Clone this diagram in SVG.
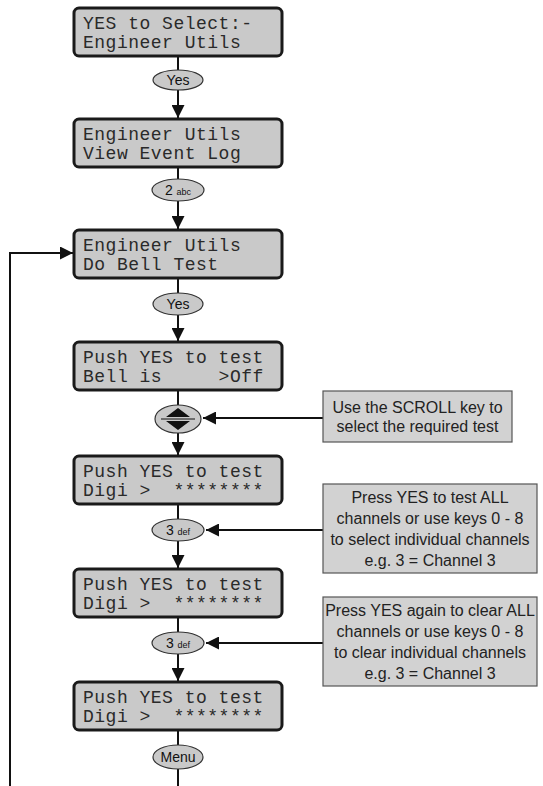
<svg xmlns="http://www.w3.org/2000/svg" width="543" height="786" viewBox="0 0 543 786">
<style>
.lcd{fill:#c9c9c9;stroke:#1a1a1a;stroke-width:3}
.lt{font-family:"Liberation Mono","DejaVu Sans Mono",monospace;font-size:18px;letter-spacing:0.5px;fill:#2a2a2a;white-space:pre}
.key{fill:#c9c9c9;stroke:#333;stroke-width:1.2}
.kt{font-family:"Liberation Sans",Arial,sans-serif;font-size:14px;fill:#111;text-anchor:middle}
.ks{font-size:9px}
.note{fill:#d2d2d2;stroke:#555;stroke-width:1.2}
.nt{font-family:"Liberation Sans",Arial,sans-serif;font-size:16px;fill:#222;text-anchor:middle}
.con{fill:none;stroke:#111;stroke-width:2}
</style>
<defs>
<marker id="ah" viewBox="0 0 10 10" refX="10" refY="5" markerWidth="13" markerHeight="13" markerUnits="userSpaceOnUse" orient="auto">
<path d="M0,0 L10,5 L0,10 z" fill="#111"/>
</marker>
</defs>
<g id="connectors">
<path class="con" d="M178,56 V118" marker-end="url(#ah)"/>
<path class="con" d="M178,167 V229" marker-end="url(#ah)"/>
<path class="con" d="M178,278 V341" marker-end="url(#ah)"/>
<path class="con" d="M178,390 V455" marker-end="url(#ah)"/>
<path class="con" d="M178,504 V568" marker-end="url(#ah)"/>
<path class="con" d="M178,617 V681" marker-end="url(#ah)"/>
<path class="con" d="M178,730 V786"/>
<path class="con" d="M10,786 V253 H73" marker-end="url(#ah)"/>
<path class="con" d="M323,418 H203" marker-end="url(#ah)"/>
<path class="con" d="M323,530 H206" marker-end="url(#ah)"/>
<path class="con" d="M323,643 H206" marker-end="url(#ah)"/>
</g>
<g id="lcd1"><rect class="lcd" x="74" y="8" width="208" height="48" rx="5"/>
<text class="lt" x="83" y="29">YES to Select:-<tspan x="83" dy="19">Engineer Utils</tspan></text></g>
<g id="key1"><ellipse class="key" cx="178" cy="80" rx="25" ry="10"/><text class="kt" x="178" y="85">Yes</text></g>
<g id="lcd2"><rect class="lcd" x="74" y="119" width="208" height="48" rx="5"/>
<text class="lt" x="83" y="140">Engineer Utils<tspan x="83" dy="19">View Event Log</tspan></text></g>
<g id="key2"><ellipse class="key" cx="178" cy="190" rx="26" ry="11"/><text class="kt" x="178" y="195">2 <tspan class="ks">abc</tspan></text></g>
<g id="lcd3"><rect class="lcd" x="74" y="230" width="208" height="48" rx="5"/>
<text class="lt" x="83" y="251">Engineer Utils<tspan x="83" dy="19">Do Bell Test</tspan></text></g>
<g id="key3"><ellipse class="key" cx="178" cy="304" rx="25" ry="11"/><text class="kt" x="178" y="309">Yes</text></g>
<g id="lcd4"><rect class="lcd" x="74" y="342" width="208" height="48" rx="5"/>
<text class="lt" x="83" y="363">Push YES to test<tspan x="83" dy="19">Bell is     &gt;Off</tspan></text></g>
<g id="scroll"><ellipse class="key" cx="178" cy="419" rx="23" ry="14"/>
<path d="M166,417 L178,408 L190,417 z M166,421 L178,430 L190,421 z" fill="#111"/>
<path d="M161,419 H195" stroke="#111" stroke-width="1"/></g>
<g id="lcd5"><rect class="lcd" x="74" y="456" width="208" height="48" rx="5"/>
<text class="lt" x="83" y="477">Push YES to test<tspan x="83" dy="19">Digi &gt;  ********</tspan></text></g>
<g id="key4"><ellipse class="key" cx="178" cy="530" rx="26" ry="11"/><text class="kt" x="178" y="535">3 <tspan class="ks">def</tspan></text></g>
<g id="lcd6"><rect class="lcd" x="74" y="569" width="208" height="48" rx="5"/>
<text class="lt" x="83" y="590">Push YES to test<tspan x="83" dy="19">Digi &gt;  ********</tspan></text></g>
<g id="key5"><ellipse class="key" cx="178" cy="643" rx="26" ry="11"/><text class="kt" x="178" y="648">3 <tspan class="ks">def</tspan></text></g>
<g id="lcd7"><rect class="lcd" x="74" y="682" width="208" height="48" rx="5"/>
<text class="lt" x="83" y="703">Push YES to test<tspan x="83" dy="19">Digi &gt;  ********</tspan></text></g>
<g id="key6"><ellipse class="key" cx="178" cy="757" rx="25" ry="12"/><text class="kt" x="178" y="762">Menu</text></g>
<g id="note1"><rect class="note" x="323" y="391" width="189" height="51"/>
<text class="nt" x="417.5" y="413">Use the SCROLL key to</text><text class="nt" x="417.5" y="432">select the required test</text></g>
<g id="note2"><rect class="note" x="323" y="484" width="214" height="89"/>
<text class="nt" x="430" y="503">Press YES to test ALL</text><text class="nt" x="430" y="524">channels or use keys 0 - 8</text>
<text class="nt" x="430" y="545">to select individual channels</text><text class="nt" x="430" y="566">e.g. 3 = Channel 3</text></g>
<g id="note3"><rect class="note" x="323" y="597" width="214" height="89"/>
<text class="nt" x="430" y="616">Press YES again to clear ALL</text><text class="nt" x="430" y="637">channels or use keys 0 - 8</text>
<text class="nt" x="430" y="658">to clear individual channels</text><text class="nt" x="430" y="679">e.g. 3 = Channel 3</text></g>
</svg>
